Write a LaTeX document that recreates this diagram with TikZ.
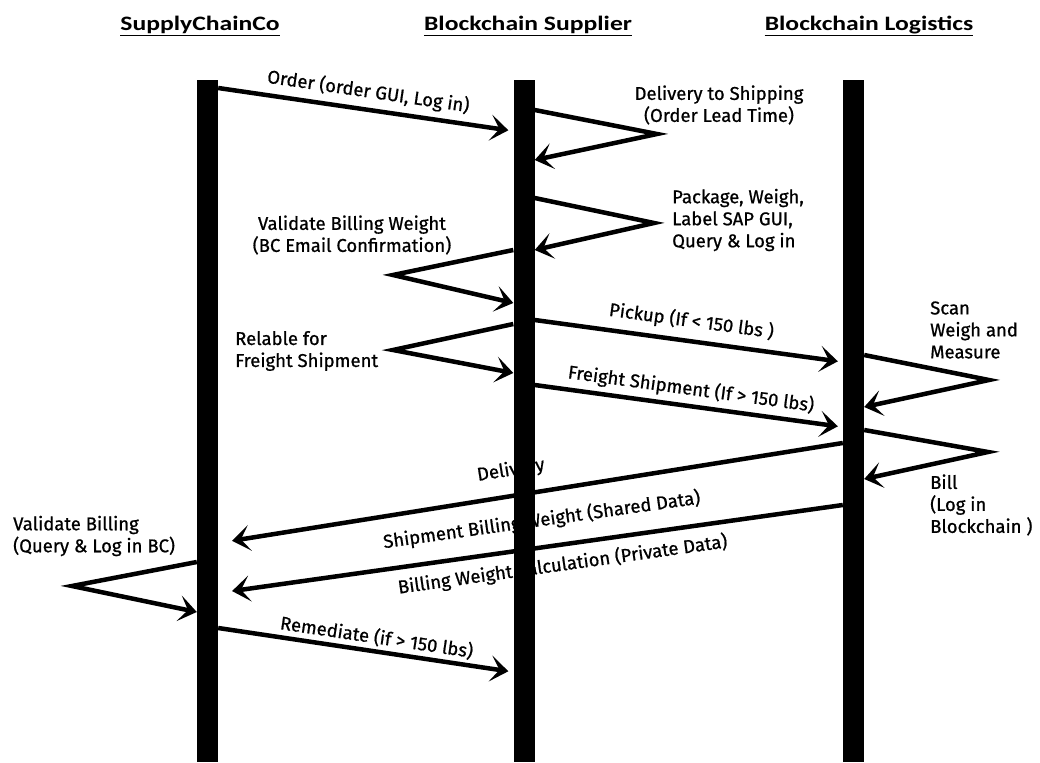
\documentclass[tikz,border=0pt]{standalone}
\usepackage{fontspec}
\usepackage{graphicx}
\usepackage{tikz}
\usetikzlibrary{positioning, arrows.meta, backgrounds}
\newfontfamily\hdrfont{Carlito}
\newfontfamily\lblfont{Fira Sans}[FakeBold=0.8]
\newcommand{\hdr}[1]{\scalebox{1.25}[1]{#1}}

\begin{document}
\begin{tikzpicture}[
  x=1pt, y=-1pt,
  font=\lblfont\fontsize{18.5}{22}\selectfont,
  head/.style={font=\hdrfont\bfseries\fontsize{20.5}{24}\selectfont, inner sep=0pt},
  life/.style={fill=black, minimum width=21pt, minimum height=682pt, inner sep=0pt},
  msg/.style={line width=4.5pt, shorten >=5pt, -{Stealth[length=18pt, width=26pt, inset=9pt]}},
  selfmsg/.style={msg, shorten >=0pt},
  note/.style={align=left, anchor=west, inner sep=0pt},
  tag/.style={sloped, inner sep=0pt},
]
\useasboundingbox (0,0) rectangle (1040,762);

% participants
\node[head] (h-sc) at (200,25) {\hdr{SupplyChainCo}};
\node[head] (h-bs) at (528,25) {\hdr{Blockchain Supplier}};
\node[head] (h-bl) at (869,25) {\hdr{Blockchain Logistics}};
\foreach \h in {h-sc, h-bs, h-bl}
  \draw[line width=1.5pt] ([yshift=-1.5pt]\h.south west) -- ([yshift=-1.5pt]\h.south east);

\node[life] (sc) at (207.5,421) {};
\node[life] (bs) at (524,421) {};
\node[life] (bl) at (853.5,421) {};

% turning points of the self messages
\coordinate (v-dts) at (657,134);
\coordinate (v-pwl) at (654,223);
\coordinate (v-vbw) at (393,275);
\coordinate (v-rfs) at (393,350);
\coordinate (v-scan) at (989,380);
\coordinate (v-bill) at (988,452);
\coordinate (v-vb) at (72,586);

\begin{scope}[on background layer]
\draw[msg] (sc.east |- 0,88) -- node[tag, pos=0.5, above=6pt] {Order (order GUI, Log in)} (bs.west |- 0,131);

\draw[selfmsg] (bs.east |- 0,110) -- (v-dts) -- (bs.east |- 0,160);
\node[align=center, inner sep=0pt] (t-dts) at (719,105) {Delivery to Shipping\\(Order Lead Time)};

\draw[selfmsg] (bs.east |- 0,198) -- (v-pwl) -- (bs.east |- 0,250);
\node[note] (t-pwl) at (672,220) {Package, Weigh,\\Label SAP GUI,\\Query \& Log in};

\draw[selfmsg] (bs.west |- 0,250) -- (v-vbw) -- (bs.west |- 0,303);
\node[align=center, inner sep=0pt] (t-vbw) at (352,235) {Validate Billing Weight\\(BC Email Confirmation)};

\draw[selfmsg] (bs.west |- 0,324) -- (v-rfs) -- (bs.west |- 0,373);
\node[note] (t-rfs) at (235,351) {Relable for\\Freight Shipment};

\draw[msg] (bs.east |- 0,320) -- node[tag, pos=0.5, above=8pt] {Pickup (If < 150 lbs )} (bl.west |- 0,362);
\draw[msg] (bs.east |- 0,385) -- node[tag, pos=0.5, above=5pt] {Freight Shipment (If > 150 lbs)} (bl.west |- 0,427);

\draw[selfmsg] (bl.east |- 0,355) -- (v-scan) -- (bl.east |- 0,407);
\node[note] (t-scan) at (930,330) {Scan\\Weigh and\\Measure};

\draw[selfmsg] (bl.east |- 0,430) -- (v-bill) -- (bl.east |- 0,479);
\node[note] (t-bill) at (930,505) {Bill\\(Log in\\Blockchain )};

\draw[msg, shorten >=14pt] (bl.west |- 0,443) -- node[tag, pos=0.525, above=14pt] {Delivery} (sc.east |- 0,543);
\draw[msg, shorten >=14pt] (bl.west |- 0,505)
  -- node[tag, pos=0.476, above=15pt] {Shipment Billing Weight (Shared Data)}
     node[tag, pos=0.453, below=8pt] {Billing Weight Calculation (Private Data)} (sc.east |- 0,593);

\draw[selfmsg] (sc.west |- 0,562) -- (v-vb) -- (sc.west |- 0,612);
\node[note] (t-vb) at (13,536) {Validate Billing\\(Query \& Log in BC)};

\draw[msg] (sc.east |- 0,628) -- node[tag, pos=0.53, above=3pt] {Remediate (if > 150 lbs)} (bs.west |- 0,672);
\end{scope}
\end{tikzpicture}
\end{document}
